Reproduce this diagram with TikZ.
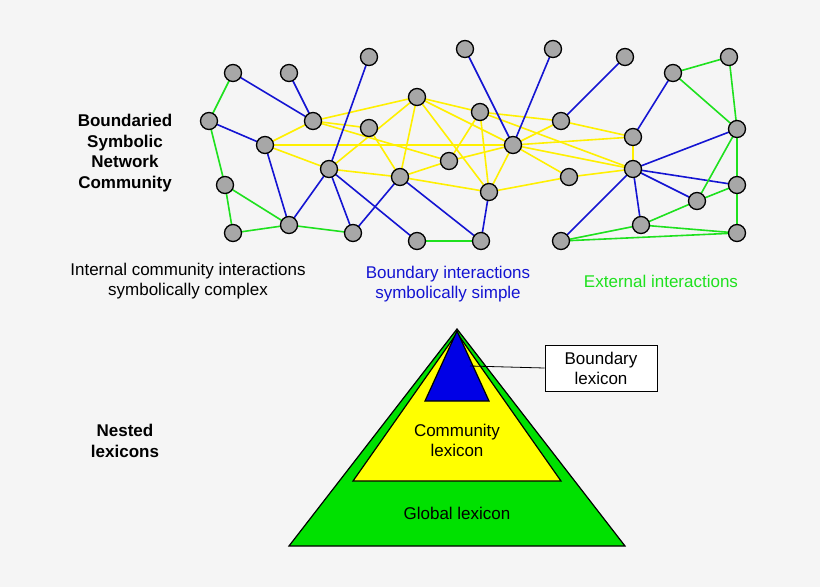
\documentclass[tikz,border=0pt]{standalone}
\usepackage{fontspec}
\setmainfont{Liberation Sans}
\begin{document}
\begin{tikzpicture}[x=1pt,y=-1pt,
 v/.style={circle,draw=black,fill=gray!85!black!60,line width=1.3pt,minimum size=17pt,inner sep=0pt},
 yl/.style={draw={rgb,255:red,255;green,240;blue,0},line width=1.6pt},
 bl/.style={draw={rgb,255:red,20;green,20;blue,210},line width=1.6pt},
 gl/.style={draw={rgb,255:red,30;green,225;blue,30},line width=1.6pt},
 lab/.style={font=\fontsize{17}{20}\selectfont,align=center},
 hd/.style={font=\fontsize{17}{20.5}\selectfont\bfseries,align=center}]
\fill[white!96!black] (0,0) rectangle (820,587);
\useasboundingbox (0,0) rectangle (820,587);
\foreach \n/\x/\y in {A/233/73,B/289/73,C/369/57,D/465/49,E/209/121,F/313/121,G/265/145,H/417/97,I/369/128,J/480/112,K/449/161,L/329/169,M/400/177,N/489/192,O/225/185,P/233/233,Q/289/225,R/353/233,S/417/241,T/481/241,U/553/49,V/625/57,W/513/145,X/561/121,Y/569/177,Z/633/137,AA/633/169,AB/673/73,AC/729/57,AD/737/129,AE/737/185,AF/697/201,AG/641/225,AH/737/233,AI/561/241}
  \coordinate (\n) at (\x,\y);
\foreach \a/\b in {F/H,F/I,G/F,G/W,G/L,L/H,L/M,I/M,F/K,H/M,H/N,H/J,H/W,M/K,M/N,K/J,N/J,J/X,J/AA,W/X,W/N,W/Y,W/Z,W/AA,K/W,N/Y,Y/AA,Z/AA,X/Z}
  \path[yl] (\a) -- (\b);
\foreach \a/\b in {A/F,B/F,E/G,G/Q,Q/L,C/L,L/R,L/S,M/R,M/T,N/T,D/W,U/W,V/X,AB/Z,AA/AD,AA/AE,AA/AF,AA/AG,AA/AI}
  \path[bl] (\a) -- (\b);
\foreach \a/\b in {A/E,E/O,O/P,O/Q,P/Q,Q/R,S/T,AB/AC,AC/AD,AB/AD,AD/AE,AD/AF,AE/AF,AE/AH,AG/AF,AG/AH,AI/AG,AI/AH}
  \path[gl] (\a) -- (\b);
\foreach \n in {A,B,C,D,E,F,G,H,I,J,K,L,M,N,O,P,Q,R,S,T,U,V,W,X,Y,Z,AA,AB,AC,AD,AE,AF,AG,AH,AI}
  \node[v] (n\n) at (\n) {};
\node[hd] (t1) at (125,153) {Boundaried\\Symbolic\\Network\\Community};
\node[lab] (t2) at (188,281) {Internal community interactions\\symbolically complex};
\node[lab,text={rgb,255:red,20;green,20;blue,210}] (t3) at (448,284) {Boundary interactions\\symbolically simple};
\node[lab,text={rgb,255:red,30;green,225;blue,30}] (t4) at (661,281) {External interactions};
\node[hd] (t5) at (125,441) {Nested\\lexicons};
\coordinate (p1) at (457,329); \coordinate (p2) at (625,546); \coordinate (p3) at (289,546);
\coordinate (q1) at (457,333); \coordinate (q2) at (561,481); \coordinate (q3) at (353,481);
\coordinate (r1) at (457,331); \coordinate (r2) at (489,401); \coordinate (r3) at (425,401);
\filldraw[fill={rgb,255:red,0;green,225;blue,0},draw=black,line width=1.2pt] (p1) -- (p2) -- (p3) -- cycle;
\filldraw[fill={rgb,255:red,255;green,255;blue,0},draw=black,line width=1.2pt] (q1) -- (q2) -- (q3) -- cycle;
\filldraw[fill={rgb,255:red,0;green,0;blue,230},draw=black,line width=1.2pt] (r1) -- (r2) -- (r3) -- cycle;
\node[lab] (cl) at (457,440) {Community\\lexicon};
\node[lab] (gl) at (457,513) {Global lexicon};
\node[lab,draw=black,fill=white,line width=0.8pt,minimum width=112pt,minimum height=46pt,inner sep=2pt] (bx) at (601,368) {Boundary\\lexicon};
\coordinate (bp) at (470,366);
\draw[line width=0.8pt] (bx.west) -- (bp);
\end{tikzpicture}
\end{document}
